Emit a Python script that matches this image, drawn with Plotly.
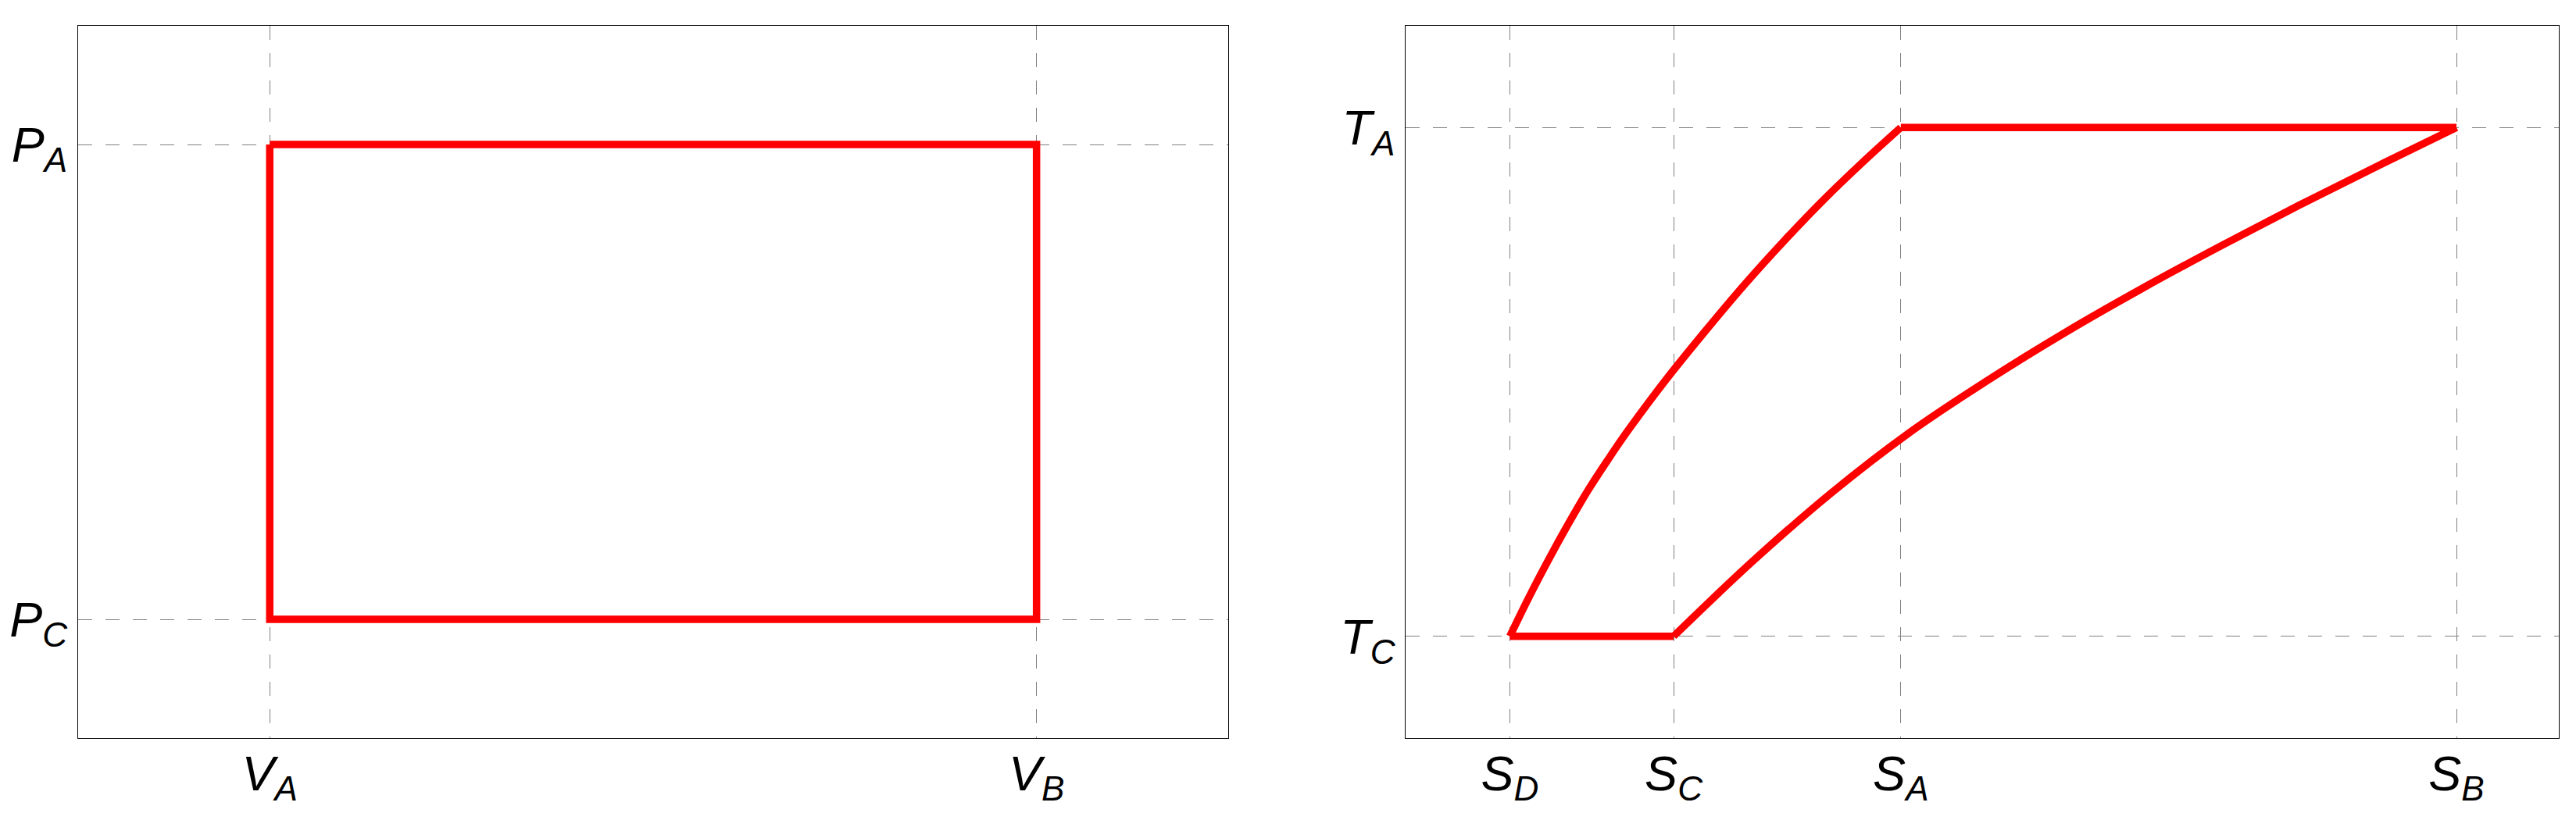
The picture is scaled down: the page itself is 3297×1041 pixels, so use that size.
import plotly.graph_objects as go

# P-V diagram: rectangle A -> B -> C -> D
pv_labels_x = ['<i>V<sub>A</sub></i>', '<i>V<sub>B</sub></i>']
pv_ticks_x = [1, 3]
pv_labels_y = ['<i>P<sub>C</sub></i>', '<i>P<sub>A</sub></i>']
pv_ticks_y = [1, 3]
pv_V = [1, 3, 3, 1, 1]
pv_P = [3, 3, 1, 1, 3]

# T-S diagram
ts_labels_x = ['<i>S<sub>D</sub></i>', '<i>S<sub>C</sub></i>', '<i>S<sub>A</sub></i>', '<i>S<sub>B</sub></i>']
ts_ticks_x = [0.0, 1.73, 4.13, 10.0]
ts_labels_y = ['<i>T<sub>C</sub></i>', '<i>T<sub>A</sub></i>']
ts_ticks_y = [1, 3]

# D -> A (upper curve)
da_S = [0.0, 0.2065, 0.413, 0.6195, 0.826, 1.0325, 1.239, 1.652, 2.065, 2.478, 2.891, 3.304, 3.717, 4.13]
da_T = [1.0, 1.157, 1.304, 1.443, 1.574, 1.692, 1.804, 2.01, 2.20, 2.382, 2.552, 2.712, 2.86, 3.0]
# C -> B (lower curve)
cb_S = [1.73, 2.557, 3.384, 4.211, 5.038, 5.865, 6.692, 7.519, 8.346, 9.173, 10.0]
cb_T = [1.0, 1.292, 1.56, 1.798, 2.004, 2.194, 2.37, 2.536, 2.696, 2.85, 3.0]
# horizontal legs
ab_S = [4.13, 10.0]
ab_T = [3.0, 3.0]
cd_S = [1.73, 0.0]
cd_T = [1.0, 1.0]

red = '#ff0000'
lw = 9.5

fig = go.Figure()

fig.add_trace(go.Scatter(x=pv_V, y=pv_P, mode='lines',
                         line=dict(color=red, width=lw), xaxis='x', yaxis='y'))

fig.add_trace(go.Scatter(x=da_S, y=da_T, mode='lines',
                         line=dict(color=red, width=lw, shape='spline', smoothing=1.0),
                         xaxis='x2', yaxis='y2'))
fig.add_trace(go.Scatter(x=cb_S, y=cb_T, mode='lines',
                         line=dict(color=red, width=lw, shape='spline', smoothing=1.0),
                         xaxis='x2', yaxis='y2'))
fig.add_trace(go.Scatter(x=ab_S, y=ab_T, mode='lines',
                         line=dict(color=red, width=lw), xaxis='x2', yaxis='y2'))
fig.add_trace(go.Scatter(x=cd_S, y=cd_T, mode='lines',
                         line=dict(color=red, width=lw), xaxis='x2', yaxis='y2'))

axis_style = dict(
    showline=True, mirror=True, linecolor='black', linewidth=1.2,
    showgrid=True, gridcolor='#808080', gridwidth=1, griddash='18px,17px',
    zeroline=False, ticks='', tickmode='array', automargin=False,
    tickfont=dict(family='Liberation Sans', size=63, color='black'),
)

fig.update_layout(
    width=3297, height=1041,
    paper_bgcolor='white', plot_bgcolor='white',
    showlegend=False,
    margin=dict(l=0, r=0, t=33, b=96),
    xaxis=dict(axis_style, domain=[0.0303, 0.4768], range=[0.5, 3.5],
               tickvals=pv_ticks_x, ticktext=pv_labels_x, anchor='y', ticklabelstandoff=-10),
    yaxis=dict(axis_style, domain=[0, 1], range=[0.5, 3.5],
               tickvals=pv_ticks_y, ticktext=pv_labels_y, anchor='x', ticklabelstandoff=0),
    xaxis2=dict(axis_style, domain=[0.5457, 0.9933], range=[-1.1, 11.08],
                tickvals=ts_ticks_x, ticktext=ts_labels_x, anchor='y2', ticklabelstandoff=-10),
    yaxis2=dict(axis_style, domain=[0, 1], range=[0.6, 3.4],
                tickvals=ts_ticks_y, ticktext=ts_labels_y, anchor='x2', ticklabelstandoff=0),
)

# drop the browser's default 8px body margin so the figure sits at the page corner
fig.write_html('out.html', config={'displayModeBar': False},
               post_script="document.body.style.margin='0';")
